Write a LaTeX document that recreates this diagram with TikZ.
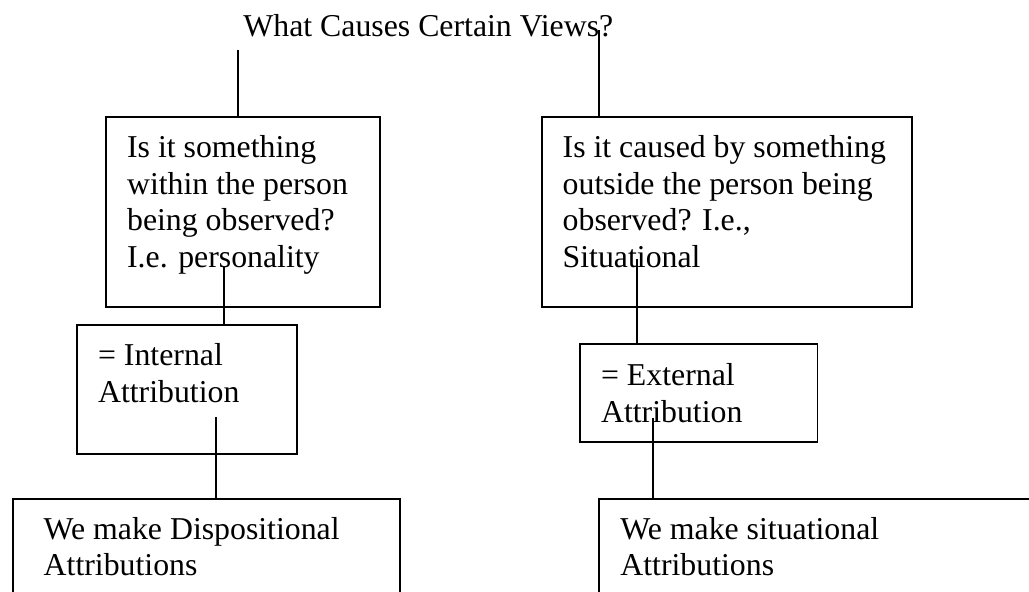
\documentclass[tikz,border=0pt]{standalone}
\usepackage{fontspec}
\setmainfont{Liberation Serif}
\usetikzlibrary{%
  positioning
 ,calc
}
\tikzstyle{bx}=[rectangle,draw=black,line width=0.9pt,inner sep=0pt]
\tikzstyle{tx}=[inner sep=0pt,anchor=north west,align=left,font=\fontsize{15.9}{18.35}\selectfont]
\tikzstyle{ln}=[line width=0.9pt]

\begin{document}
\begin{tikzpicture}[x=0.5pt,y=-0.5pt]
      \useasboundingbox (0,0) rectangle (1029,591);
      \clip (0,0) rectangle (1029,591);
      % title
      \node[inner sep=0pt,anchor=base west,font=\fontsize{15.9}{18.35}\selectfont] (title) at (243,36) {What Causes Certain Views?};
      % boxes
      \node[bx,minimum width=137.2pt,minimum height=95.3pt] (q_in) at (242.9,212) {};
      \node[bx,minimum width=185.3pt,minimum height=95.3pt] (q_out) at (727,212) {};
      \node[bx,minimum width=109.7pt,minimum height=64.5pt] (a_in) at (187,389.5) {};
      \node[bx,minimum width=118.7pt,minimum height=49pt] (a_out) at (698.7,393.3) {};
      \node[bx,minimum width=193.7pt,minimum height=60pt] (m_in) at (206.4,559) {};
      \node[bx,minimum width=250.5pt,minimum height=60pt] (m_out) at (849.5,559) {};
      % texts
      \node[tx] (q_in_t) at (126.7,135) {Is it something\\within the person\\being observed?\\I.e. personality};
      \node[tx] (q_out_t) at (562.3,135) {Is it caused by something\\outside the person being\\observed? I.e.,\\Situational};
      \node[tx] (a_in_t) at (97.7,343.3) {= Internal\\Attribution};
      \node[tx] (a_out_t) at (600.7,363.3) {= External\\Attribution};
      \node[tx] (m_in_t) at (43.3,516.6) {We make Dispositional\\Attributions};
      \node[tx] (m_out_t) at (620,516.6) {We make situational\\Attributions};
      % connectors
      \coordinate (t_1) at (238,50);
      \coordinate (t_2) at (599,30);
      \coordinate (c_1) at (224,267);
      \coordinate (c_2) at (637,259);
      \coordinate (c_3) at (216,417);
      \coordinate (c_4) at (653,418);
      \draw[ln] (t_1) -- (t_1 |- q_in.north);
      \draw[ln] (t_2) -- (t_2 |- q_out.north);
      \draw[ln] (c_1) -- (c_1 |- a_in.north);
      \draw[ln] (c_2) -- (c_2 |- a_out.north);
      \draw[ln] (c_3) -- (c_3 |- m_in.north);
      \draw[ln] (c_4) -- (c_4 |- m_out.north);
\end{tikzpicture}
\end{document}
